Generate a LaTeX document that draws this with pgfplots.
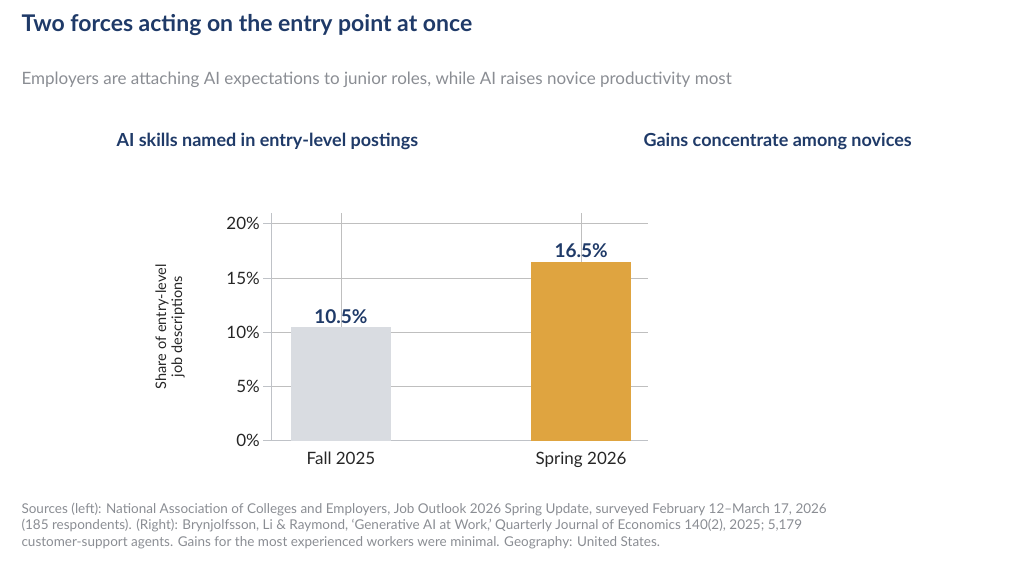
\documentclass[border=0pt]{standalone}
\usepackage{pgfplots}
\pgfplotsset{compat=1.18}
\usepackage{fontspec}
\setmainfont{Lato}
\definecolor{navy}{HTML}{1F3A68}
\definecolor{sub}{HTML}{8A8D93}
\definecolor{lgray}{HTML}{D9DCE1}
\definecolor{gold}{HTML}{DFA440}
\definecolor{blu}{HTML}{2E62A3}
\definecolor{grid}{HTML}{E6E7EA}
\definecolor{axg}{HTML}{BFC2C7}
\begin{document}
\begin{tikzpicture}[x=1pt,y=1pt]
\path[use as bounding box] (0,0) rectangle (1032,-566);
\node[anchor=west,font=\fontsize{23}{26}\selectfont\bfseries,text=navy] at (18,-25) {Two forces acting on the entry point at once};
\node[anchor=west,font=\fontsize{17}{19}\selectfont,text=sub] at (18,-80) {Employers are attaching AI expectations to junior roles, while AI raises novice productivity most};
\node[anchor=west,font=\fontsize{18}{20}\selectfont\bfseries,text=navy] at (113,-141) {AI skills named in entry-level postings};
\node[anchor=west,font=\fontsize{18}{20}\selectfont\bfseries,text=navy] at (640,-141) {Gains concentrate among novices};
\node[anchor=north west,align=left,font=\fontsize{13.5}{16.5}\selectfont,text=sub] at (18,-499) {Sources (left): National Association of Colleges and Employers, Job Outlook 2026 Spring Update, surveyed February 12--March 17, 2026\\(185 respondents). (Right): Brynjolfsson, Li \& Raymond, `Generative AI at Work,' Quarterly Journal of Economics 140(2), 2025; 5,179\\customer-support agents. Gains for the most experienced workers were minimal. Geography: United States.};
\pgfplotsset{
  panel/.style={
    scale only axis, width=377pt, height=228pt, anchor=south west,
    ybar, bar width=100pt, bar shift=0pt,
    xmin=-0.29, xmax=1.28, ymin=0,
    axis x line*=bottom, axis y line*=left,
    axis line style={axg, line width=0.8pt},
    xtick={0,1}, xtick style={draw=none},
    major tick length=8pt, ytick style={axg, line width=0.8pt},
    tick align=outside,
    ymajorgrids, grid style={grid, line width=0.8pt},
    tick label style={font=\fontsize{17}{19}\selectfont, text=black!85},
    xticklabel style={align=center},
    /pgf/number format/assume math mode=true,
    yticklabel={\pgfmathprintnumber{\tick}\%},
    nodes near coords, every node near coord/.append style={font=\fontsize{19}{22}\selectfont\bfseries, text=navy},
    ylabel style={font=\fontsize{14.5}{16}\selectfont, align=center, text=black!85},
  }
}
\begin{axis}[panel, at={(113,-406)}, ymax=21, ytick={0,5,10,15,20},
  xticklabels={Fall 2025,Spring 2026},
  ylabel={Share of entry-level\\job descriptions}, ylabel style={at={(-0.22,0.5)}},
  nodes near coords={\pgfmathprintnumber[fixed,precision=1,fixed zerofill]{\pgfplotspointmeta}\%}]
\addplot[fill=lgray, draw=none] coordinates {(0,10.5)};
\addplot[fill=gold, draw=none] coordinates {(1,16.5)};
\end{axis}
\begin{axis}[panel, at={(640,-406)}, ymax=42, ytick={0,10,20,30,40},
  xticklabels={Novice /\\lower-skilled,Average\\worker},
  ylabel={Productivity gain\\with AI assistant}, ylabel style={at={(-0.22,0.5)}},
  nodes near coords={\pgfmathprintnumber[fixed,precision=0]{\pgfplotspointmeta}\%}]
\addplot[fill=blu, draw=none] coordinates {(0,34)};
\addplot[fill=lgray, draw=none] coordinates {(1,14)};
\end{axis}
\end{tikzpicture}
\end{document}
